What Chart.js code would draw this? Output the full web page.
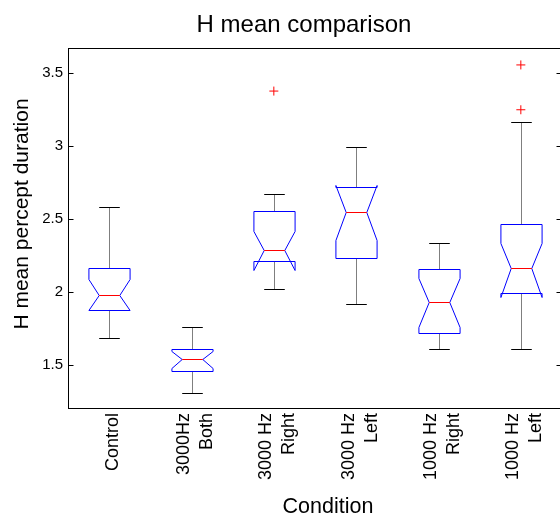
<!DOCTYPE html>
<html><head><meta charset="utf-8">
<script src="https://cdn.jsdelivr.net/npm/chart.js@4.4.1/dist/chart.umd.min.js"></script>
<style>
html,body{margin:0;padding:0;overflow:hidden;background:#fff;width:560px;height:517px}
#wrap{position:absolute;left:0;top:0;width:572px;height:517px}
</style>
</head><body><div id="wrap"><canvas id="c"></canvas></div>
<script>
// ---- data ----
const categories  = ['Control', ['3000Hz','Both'], ['3000 Hz','Right'], ['3000 Hz','Left'], ['1000 Hz','Right'], ['1000 Hz','Left']];
const whiskerHigh = [2.586, 1.762, 2.673, 2.993, 2.337, 3.168];
const q3          = [2.168, 1.611, 2.557, 2.723, 2.159, 2.470];
const notchHigh   = [2.091, 1.600, 2.420, 2.735, 2.098, 2.335];
const median      = [1.983, 1.541, 2.287, 2.548, 1.931, 2.164];
const notchLow    = [1.878, 1.479, 2.152, 2.356, 1.764, 1.968];
const q1          = [1.881, 1.463, 2.212, 2.237, 1.721, 1.993];
const whiskerLow  = [1.687, 1.312, 2.022, 1.922, 1.609, 1.613];
const outlierCat  = [2, 5, 5];
const outlierVal  = [3.378, 3.557, 3.250];
const yTicks      = [1.5, 2, 2.5, 3, 3.5];
const yMin = 1.207, yMax = 3.673;
const titleText  = 'H mean comparison';
const xTitleText = 'Condition';
const yTitleText = 'H mean percept duration';

const FONT = "'Liberation Sans', Arial, sans-serif";
Chart.defaults.font.family = FONT;
Chart.defaults.color = '#000';

const boxPlugin = {
  id: 'boxes',
  beforeDatasetsDraw(chart) {
    const {ctx, scales: {x, y}} = chart;
    const step = x.getPixelForValue(1) - x.getPixelForValue(0);
    const w = step * 0.25;
    const py = v => Math.round(y.getPixelForValue(v)) + 0.5;
    const line = (x1, y1, x2, y2) => { ctx.beginPath(); ctx.moveTo(x1, y1); ctx.lineTo(x2, y2); ctx.stroke(); };
    ctx.save();
    ctx.lineWidth = 1;
    categories.forEach((c, i) => {
      const cx = Math.round(x.getPixelForValue(i)) + 0.5;
      ctx.strokeStyle = '#000';
      ctx.setLineDash([1, 1]);
      line(cx, py(q3[i]), cx, py(whiskerHigh[i]));
      line(cx, py(q1[i]), cx, py(whiskerLow[i]));
      ctx.setLineDash([]);
      line(cx - w / 2, py(whiskerHigh[i]), cx + w / 2, py(whiskerHigh[i]));
      line(cx - w / 2, py(whiskerLow[i]), cx + w / 2, py(whiskerLow[i]));
      ctx.strokeStyle = '#0000ff';
      ctx.beginPath();
      ctx.moveTo(cx - w, py(q1[i]));
      ctx.lineTo(cx - w, py(notchLow[i]));
      ctx.lineTo(cx - w / 2, py(median[i]));
      ctx.lineTo(cx - w, py(notchHigh[i]));
      ctx.lineTo(cx - w, py(q3[i]));
      ctx.lineTo(cx + w, py(q3[i]));
      ctx.lineTo(cx + w, py(notchHigh[i]));
      ctx.lineTo(cx + w / 2, py(median[i]));
      ctx.lineTo(cx + w, py(notchLow[i]));
      ctx.lineTo(cx + w, py(q1[i]));
      ctx.closePath();
      ctx.stroke();
      ctx.strokeStyle = '#ff0000';
      line(cx - w / 2, py(median[i]), cx + w / 2, py(median[i]));
    });
    ctx.restore();
  },
  afterDraw(chart) {
    const {ctx, chartArea: a, scales: {x, y}} = chart;
    ctx.save();
    // frame + inward ticks
    ctx.strokeStyle = '#000';
    ctx.lineWidth = 1;
    const L = Math.round(a.left) + 0.5, R = Math.round(a.right) - 0.5;
    const T = Math.round(a.top) + 0.5, B = Math.round(a.bottom) + 0.5;
    ctx.strokeRect(L, T, R - L, B - T);
    y.ticks.forEach(t => {
      const p = Math.round(y.getPixelForValue(t.value)) + 0.5;
      ctx.beginPath();
      ctx.moveTo(L, p); ctx.lineTo(L + 5, p);
      ctx.moveTo(R - 5, p); ctx.lineTo(R, p);
      ctx.stroke();
    });
    // texts
    ctx.fillStyle = '#000';
    const midX = (a.left + a.right) / 2;
    ctx.textAlign = 'center';
    ctx.textBaseline = 'middle';
    ctx.font = '24px ' + FONT;
    ctx.fillText(titleText, midX - 11, a.top - 23);
    ctx.font = '21.5px ' + FONT;
    ctx.fillText(xTitleText, midX + 13, a.bottom + 99);
    ctx.save();
    ctx.translate(22, (a.top + a.bottom) / 2 - 14);
    ctx.rotate(-Math.PI / 2);
    ctx.font = '21px ' + FONT;
    ctx.fillText(yTitleText, 0, 0);
    ctx.restore();
    // category tick labels, rotated
    ctx.font = '18px ' + FONT;
    ctx.textAlign = 'right';
    categories.forEach((c, i) => {
      const lines = Array.isArray(c) ? c : [c];
      const n = lines.length;
      lines.forEach((s, k) => {
        const lx = x.getPixelForValue(i) + 4 + (k - (n - 1) / 2) * 23;
        ctx.save();
        ctx.translate(lx, a.bottom + 5);
        ctx.rotate(-Math.PI / 2);
        ctx.fillText(s, 0, 0);
        ctx.restore();
      });
    });
    ctx.restore();
  }
};

new Chart(document.getElementById('c'), {
  type: 'scatter',
  data: {
    labels: categories,
    datasets: [{
      data: outlierCat.map((c, k) => ({x: c, y: outlierVal[k]})),
      parsing: false,
      pointStyle: 'cross',
      radius: 4.5,
      borderColor: '#ff0000',
      backgroundColor: '#ff0000',
      borderWidth: 1
    }]
  },
  options: {
    responsive: true,
    maintainAspectRatio: false,
    animation: false,
    layout: {padding: {left: 0, right: 10, top: 48, bottom: 0}},
    plugins: {
      legend: {display: false},
      tooltip: {enabled: false},
      title: {display: false}
    },
    scales: {
      x: {
        type: 'category',
        offset: true,
        grid: {display: false, drawTicks: false},
        border: {display: false},
        ticks: {display: false},
        afterFit: s => { s.height = 109; }
      },
      y: {
        type: 'linear',
        min: yMin,
        max: yMax,
        afterBuildTicks: s => { s.ticks = yTicks.map(v => ({value: v})); },
        grid: {display: false, drawTicks: false},
        border: {display: false},
        ticks: {font: {size: 15}, color: '#000', padding: 5, callback: v => String(v)},
        afterFit: s => { s.width = 68; }
      }
    }
  },
  plugins: [boxPlugin]
});
</script>
</body></html>
